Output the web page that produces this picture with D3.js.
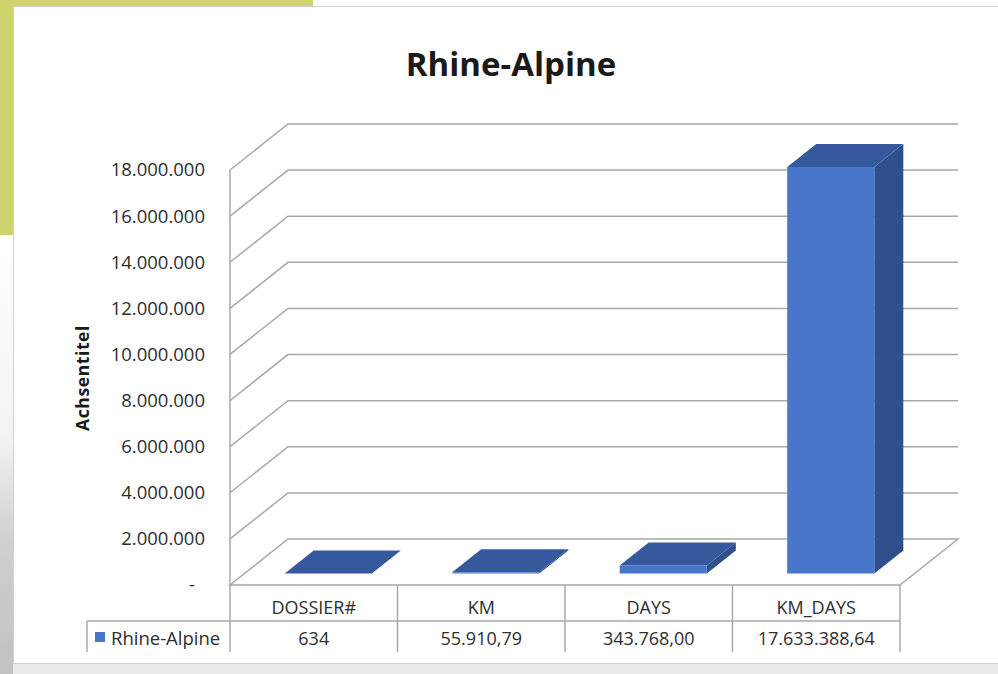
<!DOCTYPE html>
<html>
<head>
<meta charset="utf-8">
<script src="https://cdn.jsdelivr.net/npm/d3@7"></script>
<style>
  body { margin: 0; background: #fff; }
  svg { display: block; font-family: "Open Sans", sans-serif; }
</style>
</head>
<body>
<div id="chart"></div>
<script>
const chartTitle = "Rhine-Alpine";
const axisTitle = "Achsentitel";
const seriesName = "Rhine-Alpine";
const categories = ["DOSSIER#", "KM", "DAYS", "KM_DAYS"];
const values = [634, 55910.79, 343768.00, 17633388.64];
const decimals = [0, 2, 2, 2];
const yTicks = [0, 2000000, 4000000, 6000000, 8000000, 10000000, 12000000, 14000000, 16000000, 18000000];

const de = d3.formatLocale({ decimal: ",", thousands: ".", grouping: [3], currency: ["", ""] });

function drawChart() {
    const width = 998, height = 674;
    // front plane of the 3d box, plus the depth offset of the back wall
    const plot = { left: 230, right: 900, top: 170, bottom: 585 };
    const depth = { x: 58, y: -46 };
    const off = (d) => [depth.x * d, depth.y * d];

    const svg = d3.select("#chart").append("svg")
        .attr("width", width)
        .attr("height", height);

    const defs = svg.append("defs");
    const grad = defs.append("linearGradient")
        .attr("id", "leftShadow")
        .attr("x1", 0).attr("y1", 0).attr("x2", 0).attr("y2", 1);
    grad.append("stop").attr("offset", "0").attr("stop-color", "#ffffff");
    grad.append("stop").attr("offset", "0.45").attr("stop-color", "#f4f4f4");
    grad.append("stop").attr("offset", "0.7").attr("stop-color", "#cfcfcf");
    grad.append("stop").attr("offset", "1").attr("stop-color", "#c2c2c2");

    // page decoration behind the chart card
    svg.append("rect").attr("x", 0).attr("y", 0).attr("width", 313).attr("height", 235).attr("fill", "#ced46b");
    svg.append("rect").attr("x", 0).attr("y", 235).attr("width", 13).attr("height", height - 235).attr("fill", "url(#leftShadow)");
    svg.append("rect").attr("x", 13).attr("y", 664).attr("width", width).attr("height", 10).attr("fill", "#ebebeb");
    svg.append("rect")
        .attr("x", 13.5).attr("y", 6.5)
        .attr("width", width).attr("height", 657)
        .attr("fill", "#fff")
        .attr("stroke", "#d2d2d2");

    const x = d3.scaleBand().domain(categories).range([plot.left, plot.right]);
    const xBar = d3.scaleBand().domain(categories).range([plot.left, plot.right])
        .paddingInner(0.48).paddingOuter(0.24);
    const y = d3.scaleLinear().domain([0, 18000000]).range([plot.bottom, plot.top]);

    svg.append("text")
        .attr("x", 511).attr("y", 76)
        .attr("text-anchor", "middle")
        .attr("font-size", 33).attr("font-weight", "bold")
        .attr("fill", "#1a1a1a")
        .text(chartTitle);

    const g = svg.append("g");
    const gridColor = "#a8a8a8";

    // back wall + side wall gridlines
    const [bx, by] = off(1);
    g.selectAll(".grid")
        .data(yTicks.filter((t) => t > 0))
        .enter()
        .append("path")
        .attr("class", "grid")
        .attr("fill", "none")
        .attr("stroke", gridColor)
        .attr("stroke-width", 1.5)
        .attr("d", (t) => `M${plot.left},${y(t)}L${plot.left + bx},${y(t) + by}L${plot.right + bx},${y(t) + by}`);

    // side wall front edge
    g.append("line")
        .attr("x1", plot.left).attr("x2", plot.left)
        .attr("y1", y(18000000)).attr("y2", y(0))
        .attr("stroke", gridColor).attr("stroke-width", 1.5);

    // floor
    g.append("path")
        .attr("fill", "none")
        .attr("stroke", gridColor)
        .attr("stroke-width", 1.5)
        .attr("d", `M${plot.left},${y(0)}L${plot.right},${y(0)}L${plot.right + bx},${y(0) + by}L${plot.left + bx},${y(0) + by}Z`);

    // y axis labels
    const yAxis = d3.axisLeft(y)
        .tickValues(yTicks)
        .tickSize(0)
        .tickPadding(25)
        .tickFormat((d) => d === 0 ? "-" : de.format(",d")(d));
    const ax = svg.append("g")
        .attr("transform", `translate(${plot.left},0)`)
        .call(yAxis);
    ax.select(".domain").remove();
    ax.selectAll("text")
        .attr("font-family", "Open Sans, sans-serif")
        .attr("font-size", 18.5)
        .attr("fill", "#2e2e2e")
        .attr("dx", (d) => d === 0 ? -10 : 0);

    svg.append("text")
        .attr("transform", "translate(89,378) rotate(-90)")
        .attr("text-anchor", "middle")
        .attr("font-size", 17.5).attr("font-weight", "bold")
        .attr("letter-spacing", 0.6)
        .attr("fill", "#1a1a1a")
        .text(axisTitle);

    // 3d bars, sitting between 1/4 and 3/4 of the depth
    const [fx, fy] = off(0.25);
    const [kx, ky] = off(0.75);
    const bars = g.selectAll(".bar")
        .data(categories.map((c, i) => ({ c, v: values[i] })))
        .enter()
        .append("g")
        .attr("class", "bar");
    const pts = (arr) => arr.map((p) => p.join(",")).join(" ");
    bars.append("polygon")
        .attr("fill", "#2f4f8b")
        .attr("points", (d) => {
            const x1 = xBar(d.c) + xBar.bandwidth(), yt = y(d.v), yb = y(0);
            return pts([[x1 + fx, yt + fy], [x1 + kx, yt + ky], [x1 + kx, yb + ky], [x1 + fx, yb + fy]]);
        });
    bars.append("polygon")
        .attr("fill", "#35599c")
        .attr("points", (d) => {
            const x0 = xBar(d.c), x1 = x0 + xBar.bandwidth(), yt = y(d.v);
            return pts([[x0 + fx, yt + fy], [x1 + fx, yt + fy], [x1 + kx, yt + ky], [x0 + kx, yt + ky]]);
        });
    bars.append("polygon")
        .attr("fill", "#4876cb")
        .attr("points", (d) => {
            const x0 = xBar(d.c), x1 = x0 + xBar.bandwidth(), yt = y(d.v), yb = y(0);
            return pts([[x0 + fx, yt + fy], [x1 + fx, yt + fy], [x1 + fx, yb + fy], [x0 + fx, yb + fy]]);
        });

    // data table
    const tableColor = "#a8a8a8";
    const rowMid = 621, rowBottom = 652;
    const t = svg.append("g");
    t.selectAll(".vline")
        .data([plot.left, ...categories.map((c) => x(c) + x.bandwidth())])
        .enter()
        .append("line")
        .attr("x1", (d) => d).attr("x2", (d) => d)
        .attr("y1", y(0)).attr("y2", rowBottom)
        .attr("stroke", tableColor).attr("stroke-width", 1.5);
    t.append("line")
        .attr("x1", 87).attr("x2", plot.right)
        .attr("y1", rowMid).attr("y2", rowMid)
        .attr("stroke", tableColor).attr("stroke-width", 1.5);
    t.append("line")
        .attr("x1", 87).attr("x2", 87)
        .attr("y1", rowMid).attr("y2", rowBottom)
        .attr("stroke", tableColor).attr("stroke-width", 1.5);

    t.selectAll(".head")
        .data(categories)
        .enter()
        .append("text")
        .attr("x", (d) => x(d) + x.bandwidth() / 2)
        .attr("y", 614)
        .attr("text-anchor", "middle")
        .attr("font-size", 18)
        .attr("fill", "#2e2e2e")
        .text((d) => d);
    t.selectAll(".val")
        .data(values)
        .enter()
        .append("text")
        .attr("x", (d, i) => x(categories[i]) + x.bandwidth() / 2)
        .attr("y", 645)
        .attr("text-anchor", "middle")
        .attr("font-size", 18)
        .attr("fill", "#2e2e2e")
        .text((d, i) => de.format(`,.${decimals[i]}f`)(d));

    t.append("rect")
        .attr("x", 95).attr("y", 632)
        .attr("width", 10).attr("height", 10)
        .attr("fill", "#4876cb");
    t.append("text")
        .attr("x", 111).attr("y", 645)
        .attr("font-size", 18.5)
        .attr("fill", "#2e2e2e")
        .text(seriesName);
}

drawChart();
</script>
</body>
</html>
